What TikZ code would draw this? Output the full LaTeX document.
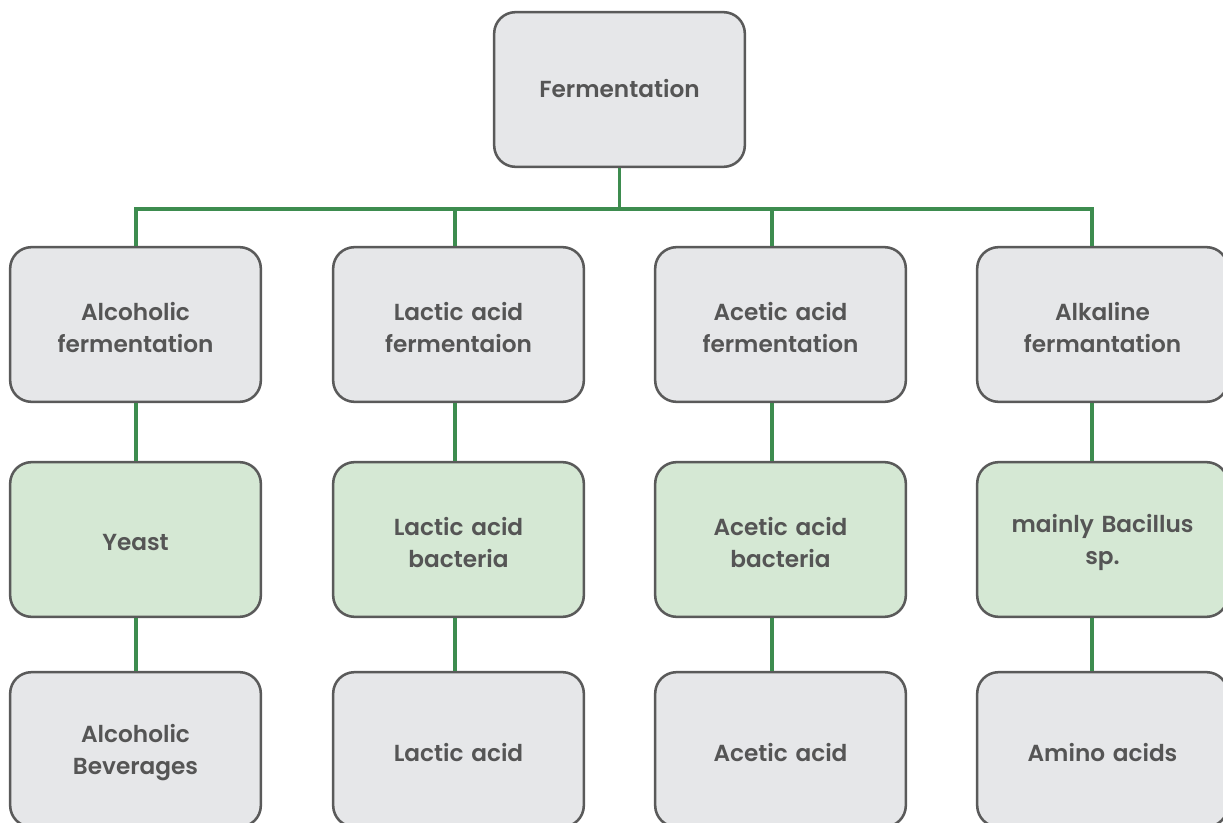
\documentclass[tikz,border=0pt]{standalone}
\usepackage{fontspec}
\setmainfont{Poppins}[BoldFont={Poppins SemiBold}]
\definecolor{boxgray}{HTML}{E6E7E9}
\definecolor{boxgreen}{HTML}{D5E8D4}
\definecolor{edgegray}{HTML}{5A5A5A}
\definecolor{linegreen}{HTML}{3D8C4F}
\definecolor{txt}{HTML}{555555}
\begin{document}
\begin{tikzpicture}[x=0.75pt,y=-0.75pt,
  base/.style={draw=edgegray,line width=1.9pt,rounded corners=16pt,minimum width=188pt,minimum height=116pt,inner sep=0pt},
  graybox/.style={base,fill=boxgray},
  greenbox/.style={base,fill=boxgreen},
  lbl/.style={text width=180pt,align=center,font=\fontsize{17.4}{24}\selectfont\bfseries,text=txt,inner sep=0pt},
  link/.style={draw=linegreen,line width=2.4pt}]
\useasboundingbox (0,0) rectangle (1223,823);
\coordinate (bar) at (619.5,209);
\coordinate (xa) at (136,0);
\coordinate (xb) at (455,0);
\coordinate (xc) at (772,0);
\coordinate (xd) at (1092,0);
% boxes
\node[graybox] (top) at (619.5,89.5) {};
\node[graybox] (a1) at (135.5,324.5) {};
\node[graybox] (b1) at (458.5,324.5) {};
\node[graybox] (c1) at (780.5,324.5) {};
\node[graybox] (d1) at (1102.5,324.5) {};
\node[greenbox] (a2) at (135.5,539.5) {};
\node[greenbox] (b2) at (458.5,539.5) {};
\node[greenbox] (c2) at (780.5,539.5) {};
\node[greenbox] (d2) at (1102.5,539.5) {};
\node[graybox] (a3) at (135.5,749.5) {};
\node[graybox] (b3) at (458.5,749.5) {};
\node[graybox] (c3) at (780.5,749.5) {};
\node[graybox] (d3) at (1102.5,749.5) {};
% texts
\node[lbl] (topt) at (619.5,89) {Fermentation};
\node[lbl] (a1t) at (135.5,327.5) {Alcoholic\\fermentation};
\node[lbl] (b1t) at (458.5,327.5) {Lactic acid\\fermentaion};
\node[lbl] (c1t) at (780.5,327.5) {Acetic acid\\fermentation};
\node[lbl] (d1t) at (1102.5,327.5) {Alkaline\\fermantation};
\node[lbl] (a2t) at (135.5,543) {Yeast};
\node[lbl] (b2t) at (458.5,542.5) {Lactic acid\\bacteria};
\node[lbl] (c2t) at (780.5,542.5) {Acetic acid\\bacteria};
\node[lbl] (d2t) at (1102.5,542.5) {mainly Bacillus\\sp.};
\node[lbl] (a3t) at (135.5,752.5) {Alcoholic\\Beverages};
\node[lbl] (b3t) at (458.5,752.5) {Lactic acid};
\node[lbl] (c3t) at (780.5,752.5) {Acetic acid};
\node[lbl] (d3t) at (1102.5,752.5) {Amino acids};
% connectors
\draw[link] (top.south) -- (bar);
\draw[link] (a1.north -| xa) |- (bar) -| (d1.north -| xd);
\draw[link] (b1.north -| xb) -- (bar -| xb);
\draw[link] (c1.north -| xc) -- (bar -| xc);
\draw[link] (a1.south -| xa) -- (a2.north -| xa);
\draw[link] (a2.south -| xa) -- (a3.north -| xa);
\draw[link] (b1.south -| xb) -- (b2.north -| xb);
\draw[link] (b2.south -| xb) -- (b3.north -| xb);
\draw[link] (c1.south -| xc) -- (c2.north -| xc);
\draw[link] (c2.south -| xc) -- (c3.north -| xc);
\draw[link] (d1.south -| xd) -- (d2.north -| xd);
\draw[link] (d2.south -| xd) -- (d3.north -| xd);
\end{tikzpicture}
\end{document}
